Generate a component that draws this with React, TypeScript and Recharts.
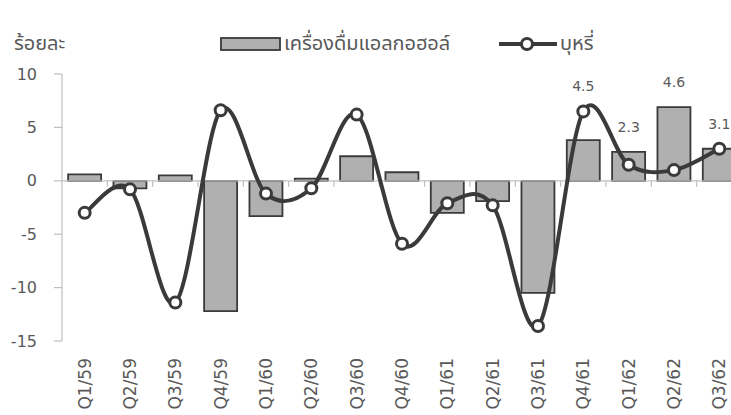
import {
  ComposedChart,
  Bar,
  Line,
  XAxis,
  YAxis,
  ReferenceLine,
  LabelList,
} from 'recharts';

const quarters = [
  'Q1/59', 'Q2/59', 'Q3/59', 'Q4/59',
  'Q1/60', 'Q2/60', 'Q3/60', 'Q4/60',
  'Q1/61', 'Q2/61', 'Q3/61', 'Q4/61',
  'Q1/62', 'Q2/62', 'Q3/62',
];

// alcoholic beverages (bars)
const alcohol = [0.6, -0.7, 0.5, -12.2, -3.3, 0.2, 2.3, 0.8, -3.0, -1.9, -10.5, 3.8, 2.7, 6.9, 3.0];

// tobacco (smoothed line)
const tobacco = [-3.0, -0.8, -11.4, 6.6, -1.2, -0.7, 6.2, -5.9, -2.1, -2.3, -13.6, 6.5, 1.5, 1.0, 3.0];

// callout figures above the last four quarters
const notes: (string | null)[] = [
  null, null, null, null, null, null, null, null, null, null, null,
  '4.5', '2.3', '4.6', '3.1',
];

const yTicks = [-15, -10, -5, 0, 5, 10];

const data = quarters.map((q, i) => ({
  q,
  alcohol: alcohol[i],
  tobacco: tobacco[i],
  note: notes[i],
  noteAt: notes[i] ? Math.max(alcohol[i], tobacco[i]) : null,
}));

const TEXT = '#595959';
const AXIS = '#bfbfbf';
const DARK = '#3a3a3a';
const FONT = '"DejaVu Sans", "Noto Sans", sans-serif';
const THAI = '"Noto Sans Thai", "Noto Sans", "DejaVu Sans", sans-serif';

// Excel-style smoothing: Catmull-Rom segments as cubic beziers
const smoothCurve = (context: any) => {
  let pts: [number, number][] = [];
  return {
    areaStart() {},
    areaEnd() {},
    lineStart() {
      pts = [];
    },
    point(x: number, y: number) {
      pts.push([+x, +y]);
    },
    lineEnd() {
      if (!pts.length) return;
      context.moveTo(pts[0][0], pts[0][1]);
      for (let i = 0; i < pts.length - 1; i++) {
        const p0 = pts[Math.max(i - 1, 0)];
        const p1 = pts[i];
        const p2 = pts[i + 1];
        const p3 = pts[Math.min(i + 2, pts.length - 1)];
        context.bezierCurveTo(
          p1[0] + (p2[0] - p0[0]) / 6,
          p1[1] + (p2[1] - p0[1]) / 6,
          p2[0] - (p3[0] - p1[0]) / 6,
          p2[1] - (p3[1] - p1[1]) / 6,
          p2[0],
          p2[1],
        );
      }
    },
  };
};

const ZeroAxis = (props: any) => {
  const { x1, y1, x2 } = props;
  const step = (x2 - x1) / quarters.length;
  return (
    <g>
      <line x1={x1} y1={y1} x2={x2} y2={y1} stroke={AXIS} strokeWidth={1.2} />
      {quarters.map((_, i) => (
        <line
          key={i}
          x1={x1 + (i + 1) * step}
          x2={x1 + (i + 1) * step}
          y1={y1}
          y2={y1 + 6}
          stroke={AXIS}
          strokeWidth={1.2}
        />
      ))}
    </g>
  );
};

const QuarterTick = ({ x, y, payload }: any) => (
  <text
    x={x}
    y={y + 17}
    dy="0.35em"
    transform={`rotate(-90, ${x}, ${y + 17})`}
    textAnchor="end"
    fill={TEXT}
    fontSize={17}
    fontFamily={FONT}
  >
    {payload.value}
  </text>
);

function Legend() {
  return (
    <svg width={731} height={70} style={{ position: 'absolute', left: 0, top: 0 }}>
      <text x={14} y={43} dy="0.35em" fill={TEXT} fontSize={20} fontFamily={THAI}>
        ร้อยละ
      </text>
      <rect x={221} y={38} width={59} height={12} fill="#b0b0b0" stroke={DARK} strokeWidth={1.8} />
      <text x={284} y={43} dy="0.35em" fill={TEXT} fontSize={20} fontFamily={THAI}>
        เครื่องดื่มแอลกอฮอล์
      </text>
      <line x1={499} x2={557} y1={44} y2={44} stroke={DARK} strokeWidth={4} />
      <circle cx={527} cy={44} r={5.5} fill="#fff" stroke={DARK} strokeWidth={3} />
      <text x={560} y={43} dy="0.35em" fill={TEXT} fontSize={20} fontFamily={THAI}>
        บุหรี่
      </text>
    </svg>
  );
}

export default function App() {
  return (
    <div
      style={{
        position: 'fixed',
        left: 0,
        top: 0,
        width: 731,
        height: 415,
        overflow: 'hidden',
        background: '#fff',
      }}
    >
      <ComposedChart
        width={760}
        height={415}
        data={data}
        margin={{ top: 74, right: 18, bottom: 0, left: 0 }}
        barCategoryGap="13.5%"
      >
        <XAxis
          dataKey="q"
          height={74}
          axisLine={false}
          tickLine={false}
          tickSize={0}
          tickMargin={0}
          interval={0}
          tick={<QuarterTick />}
        />
        <YAxis
          width={62}
          domain={[-15, 10]}
          ticks={yTicks}
          allowDataOverflow
          axisLine={{ stroke: AXIS, strokeWidth: 1.2 }}
          tickLine={{ stroke: AXIS, strokeWidth: 1.2 }}
          tickSize={8}
          tickMargin={17}
          tick={{ fill: TEXT, fontSize: 16, fontFamily: FONT }}
        />
        <Bar
          dataKey="alcohol"
          fill="#b0b0b0"
          stroke={DARK}
          strokeWidth={1.8}
          isAnimationActive={false}
        />
        <ReferenceLine y={0} shape={<ZeroAxis />} />
        <Line
          dataKey="tobacco"
          type={smoothCurve as any}
          stroke={DARK}
          strokeWidth={4}
          dot={{ r: 5.5, fill: '#fff', stroke: DARK, strokeWidth: 3 }}
          activeDot={false}
          isAnimationActive={false}
        />
        <Line
          dataKey="noteAt"
          stroke="none"
          dot={false}
          activeDot={false}
          isAnimationActive={false}
        >
          <LabelList
            dataKey="note"
            position="top"
            offset={20}
            fill={TEXT}
            fontSize={14}
            fontFamily={FONT}
          />
        </Line>
      </ComposedChart>
      <Legend />
    </div>
  );
}
